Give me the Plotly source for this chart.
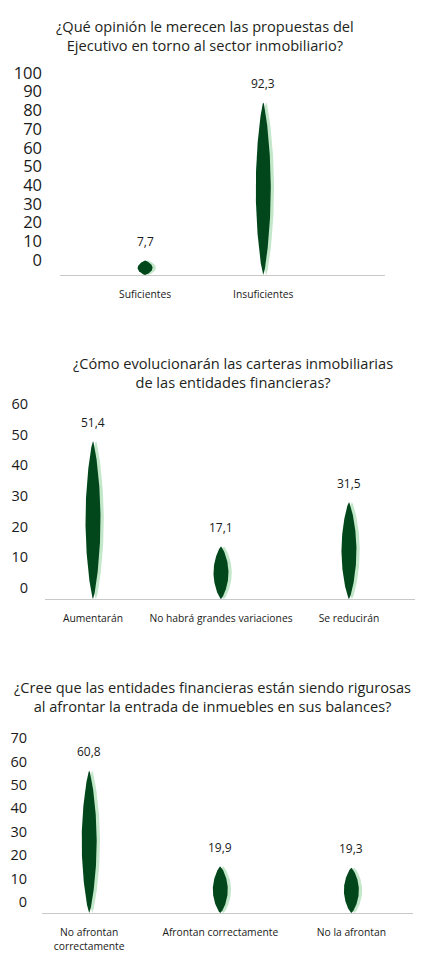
import numpy as np
import plotly.graph_objects as go

# ---------------- data ----------------
titles = [
    "¿Qué opinión le merecen las propuestas del<br>Ejecutivo en torno al sector inmobiliario?",
    "¿Cómo evolucionarán las carteras inmobiliarias<br>de las entidades financieras?",
    "¿Cree que las entidades financieras están siendo rigurosas<br>al afrontar la entrada de inmuebles en sus balances?",
]
cats1 = ["Suficientes", "Insuficientes"]
vals1 = [7.7, 92.3]
cats2 = ["Aumentarán", "No habrá grandes variaciones", "Se reducirán"]
vals2 = [51.4, 17.1, 31.5]
cats3 = ["No afrontan<br>correctamente", "Afrontan correctamente", "No la afrontan"]
vals3 = [60.8, 19.9, 19.3]
yticks1 = [0, 10, 20, 30, 40, 50, 60, 70, 80, 90, 100]
yticks2 = [0, 10, 20, 30, 40, 50, 60]
yticks3 = [0, 10, 20, 30, 40, 50, 60, 70]

# ---------------- style / layout ----------------
W, H = 431, 963
DARK = "#02471b"
SHADOW = "#c2e7c9"
FONT = "Open Sans"

panels = [
    dict(title=titles[0], cats=cats1, vals=vals1, ticks=yticks1, yrange=[0, 100],
         xpx=(60, 385), ypx=(275, 88), xrange=[-0.72, 2.03], tsize=16.5, title_xy=(205, 35.5),
         shift=-15, standoff=17),
    dict(title=titles[1], cats=cats2, vals=vals2, ticks=yticks2, yrange=[0, 60],
         xpx=(45, 415), ypx=(599, 414.8), xrange=[-0.375, 2.516], tsize=14.5, title_xy=(233, 372.5),
         shift=-11, standoff=16),
    dict(title=titles[2], cats=cats3, vals=vals3, ticks=yticks3, yrange=[0, 70],
         xpx=(42, 413), ypx=(913, 749.2), xrange=[-0.36, 2.47], tsize=14.5, title_xy=(212, 696.5),
         shift=-11, standoff=14),
]

fig = go.Figure()
LENS_PX = 15
t = np.linspace(0, 1, 120)

for i, p in enumerate(panels):
    ax = "" if i == 0 else str(i + 1)
    xpx_per_unit = (p["xpx"][1] - p["xpx"][0]) / (p["xrange"][1] - p["xrange"][0])
    half_w = LENS_PX / 2 / xpx_per_unit
    off = 3 / xpx_per_unit
    for k, v in enumerate(p["vals"]):
        prof = np.sin(np.pi * t) ** 0.72
        ys = np.concatenate([v * t, (v * t)[::-1]])
        for dx, col, hw in [(off, SHADOW, half_w * 1.04), (0, DARK, half_w)]:
            xs = np.concatenate([k + dx + hw * prof, (k + dx - hw * prof)[::-1]])
            fig.add_trace(go.Scatter(
                x=xs, y=ys, mode="lines", fill="toself", fillcolor=col,
                line=dict(width=0, color=col), hoverinfo="skip", showlegend=False,
                xaxis="x" + ax, yaxis="y" + ax))
        fig.add_annotation(x=k, y=v, xref="x" + ax, yref="y" + ax, text=f"{v:.1f}".replace(".", ","),
                           showarrow=False, yshift=19, yanchor="middle",
                           font=dict(family=FONT, size=12, color="#1a1a1a"))
    fig.add_annotation(x=p["title_xy"][0] / W, y=1 - p["title_xy"][1] / H, xref="paper", yref="paper",
                       text=p["title"], showarrow=False, xanchor="center", yanchor="middle",
                       font=dict(family=FONT, size=14.6, color="#231f20"))
    xdom = [p["xpx"][0] / W, p["xpx"][1] / W]
    ydom = [1 - p["ypx"][0] / H, 1 - p["ypx"][1] / H]
    fig.update_layout(**{
        "xaxis" + ax: dict(domain=xdom, range=p["xrange"], anchor="y" + ax, automargin=False,
                           tickvals=list(range(len(p["cats"]))), ticktext=p["cats"],
                           showline=True, linecolor="#c8c8c8", linewidth=1, showgrid=False,
                           zeroline=False, ticks="", ticklabelstandoff=10,
                           tickfont=dict(family=FONT, size=10.3, color="#1a1a1a"), fixedrange=True),
        "yaxis" + ax: dict(domain=ydom, range=p["yrange"], anchor="x" + ax, automargin=False,
                           tickvals=p["ticks"], showgrid=False, zeroline=False, showline=False,
                           ticks="", ticklabelstandoff=p["standoff"], ticklabelshift=p["shift"],
                           tickfont=dict(family=FONT, size=p["tsize"], color="#1a1a1a"), fixedrange=True),
    })

fig.update_layout(width=W, height=H, margin=dict(l=0, r=0, t=0, b=0, autoexpand=False),
                  paper_bgcolor="white", plot_bgcolor="white", showlegend=False)
fig.write_html("out.html", config={"displayModeBar": False},
               post_script="document.body.style.margin='0';document.body.style.overflow='hidden';")
